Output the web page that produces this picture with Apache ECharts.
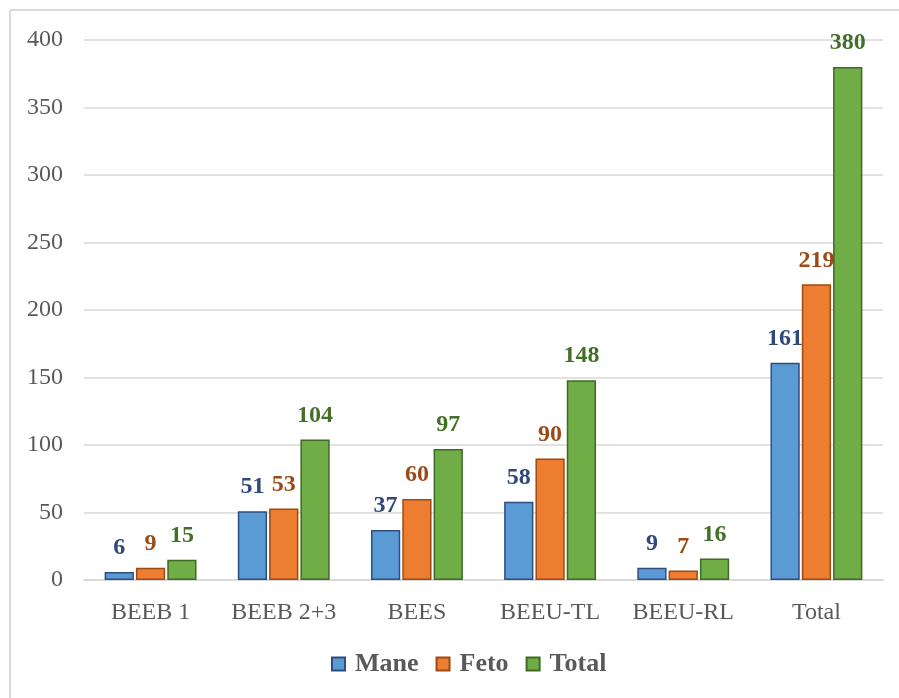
<!DOCTYPE html>
<html><head><meta charset="utf-8">
<script src="https://cdn.jsdelivr.net/npm/echarts@6/dist/echarts.min.js"></script>
<style>html,body{margin:0;padding:0;background:#fff}#c{width:899px;height:698px}</style>
</head><body><div id="c"></div>
<script>
const categories = ['BEEB 1','BEEB 2+3','BEES','BEEU-TL','BEEU-RL','Total'];
const mane = [6,51,37,58,9,161];
const feto = [9,53,60,90,7,219];
const total = [15,104,97,148,16,380];
const yTicks = {min:0,max:400,interval:50};

const font = '"Liberation Serif","Times New Roman",serif';
function s(name,data,fill,border,labelColor){
  return {name,type:'bar',data,barGap:'7%',barCategoryGap:'31%',
    itemStyle:{color:fill,borderColor:border,borderWidth:1.5},
    label:{show:true,position:'top',distance:12,color:labelColor,fontFamily:font,fontWeight:'bold',fontSize:24}};
}
const chart = echarts.init(document.getElementById('c'));
chart.setOption({
  animation:false,
  graphic:[
    {type:'line',shape:{x1:10,y1:10,x2:10,y2:698},style:{stroke:'#D9D9D9',lineWidth:2}},
    {type:'line',shape:{x1:10,y1:10,x2:899,y2:10},style:{stroke:'#D9D9D9',lineWidth:2}}
  ],
  grid:{left:84,right:16,top:40,bottom:118},
  legend:{bottom:16,left:326,icon:'rect',itemWidth:13,itemHeight:13,itemGap:17,
    textStyle:{fontFamily:font,fontWeight:'bold',fontSize:26,color:'#595959',padding:[0,0,0,5]},
    data:['Mane','Feto','Total']},
  xAxis:{type:'category',data:categories,
    axisLine:{lineStyle:{color:'#D9D9D9',width:2}},axisTick:{show:false},
    axisLabel:{interval:0,fontFamily:font,fontSize:24,color:'#595959',margin:21}},
  yAxis:{type:'value',min:yTicks.min,max:yTicks.max,interval:yTicks.interval,
    axisLine:{show:false},axisTick:{show:false},
    splitLine:{lineStyle:{color:'#D9D9D9',width:1.5}},
    axisLabel:{fontFamily:font,fontSize:24,color:'#595959',margin:21}},
  series:[
    s('Mane',mane,'#5B9BD5','#2E4E7E','#2F4A78'),
    s('Feto',feto,'#ED7D31','#9E4A14','#9C4A17'),
    s('Total',total,'#70AD47','#3E6B24','#436F27')
  ]
});
</script></body></html>
